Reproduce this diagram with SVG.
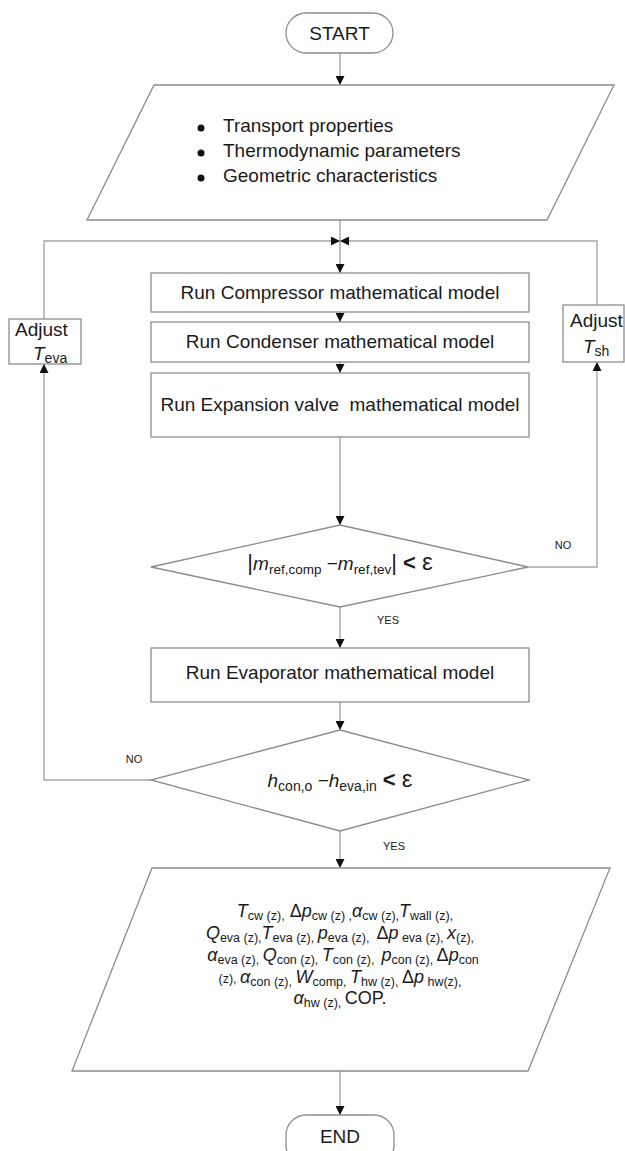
<svg xmlns="http://www.w3.org/2000/svg" width="625" height="1151" viewBox="0 0 625 1151">
<style>
.shape{fill:#fff;stroke:#8c8c8c;stroke-width:1.3}
.conn{fill:none;stroke:#a6a6a6;stroke-width:1.4}
.t{font-family:"Liberation Sans",Arial,sans-serif;font-size:19px;fill:#1a1a1a}
.m{font-family:"Liberation Sans",Arial,sans-serif;font-size:18px;fill:#1a1a1a}
.i{font-style:italic}
.s{font-size:12.5px;font-style:normal}
.lab{font-family:"Liberation Sans",Arial,sans-serif;font-size:11px;fill:#1a1a1a}
</style>
<defs>
<marker id="arr" markerUnits="userSpaceOnUse" markerWidth="9" markerHeight="9" refX="9" refY="4.5" orient="auto">
<path d="M0,0 L9,4.5 L0,9 z" fill="#111"/>
</marker>
</defs>
<rect width="625" height="1151" fill="#fff"/>

<g id="connectors">
<line class="conn" x1="340" y1="53" x2="340" y2="85" marker-end="url(#arr)"/>
<line class="conn" x1="340" y1="220" x2="340" y2="273" marker-end="url(#arr)"/>
<line class="conn" x1="340" y1="312" x2="340" y2="322" marker-end="url(#arr)"/>
<line class="conn" x1="340" y1="362" x2="340" y2="373" marker-end="url(#arr)"/>
<line class="conn" x1="340" y1="437" x2="340" y2="525" marker-end="url(#arr)"/>
<line class="conn" x1="340" y1="607" x2="340" y2="648" marker-end="url(#arr)"/>
<line class="conn" x1="340" y1="702" x2="340" y2="730" marker-end="url(#arr)"/>
<line class="conn" x1="340" y1="831" x2="340" y2="868" marker-end="url(#arr)"/>
<line class="conn" x1="340" y1="1071" x2="340" y2="1115" marker-end="url(#arr)"/>
<polyline class="conn" points="528,567 597,567 597,362" marker-end="url(#arr)"/>
<polyline class="conn" points="597,305 597,241 340,241" marker-end="url(#arr)"/>
<polyline class="conn" points="151,780 44,780 44,364" marker-end="url(#arr)"/>
<polyline class="conn" points="44,319 44,241 340,241" marker-end="url(#arr)"/>
<text class="lab" x="563" y="549" text-anchor="middle">NO</text>
<text class="lab" x="388" y="624" text-anchor="middle">YES</text>
<text class="lab" x="134" y="763" text-anchor="middle">NO</text>
<text class="lab" x="394" y="850" text-anchor="middle">YES</text>
</g>

<g id="start">
<rect class="shape" x="286" y="13" width="107" height="40" rx="20" ry="20"/>
<text class="t" x="339.5" y="40" text-anchor="middle">START</text>
</g>

<g id="inputs">
<polygon class="shape" points="154,85 614,85 547,220 87,220"/>
<circle cx="201" cy="128" r="3.5" fill="#111"/>
<circle cx="201" cy="153" r="3.5" fill="#111"/>
<circle cx="201" cy="178" r="3.5" fill="#111"/>
<text class="t" x="223" y="132">Transport properties</text>
<text class="t" x="223" y="157">Thermodynamic parameters</text>
<text class="t" x="223" y="182">Geometric characteristics</text>
</g>

<g id="compressor">
<rect class="shape" x="151" y="273" width="378" height="39"/>
<text class="t" x="340" y="299" text-anchor="middle">Run Compressor mathematical model</text>
</g>

<g id="condenser">
<rect class="shape" x="151" y="322" width="378" height="40"/>
<text class="t" x="340" y="348" text-anchor="middle">Run Condenser mathematical model</text>
</g>

<g id="expansion">
<rect class="shape" x="151" y="373" width="378" height="64"/>
<text class="t" x="340" y="411" text-anchor="middle" xml:space="preserve">Run Expansion valve  mathematical model</text>
</g>

<g id="check-mass">
<polygon class="shape" points="340,525 528,567 340,607 151,567"/>
<text class="t" x="340" y="570" text-anchor="middle"><tspan font-size="22">|</tspan><tspan class="i">m</tspan><tspan font-size="13.5" dy="4">ref,comp</tspan><tspan dy="-4"> −</tspan><tspan class="i">m</tspan><tspan font-size="13.5" dy="4">ref,tev</tspan><tspan font-size="22" dy="-4">|</tspan><tspan font-size="22" font-weight="bold"> &lt; </tspan><tspan font-size="24">ε</tspan></text>
</g>

<g id="evaporator">
<rect class="shape" x="151" y="648" width="378" height="54"/>
<text class="t" x="340" y="679" text-anchor="middle">Run Evaporator mathematical model</text>
</g>

<g id="check-enthalpy">
<polygon class="shape" points="340,730 529,780 340,831 151,780"/>
<text class="t" x="340" y="787" text-anchor="middle"><tspan class="i">h</tspan><tspan font-size="14" dy="4">con,o</tspan><tspan dy="-4"> −</tspan><tspan class="i">h</tspan><tspan font-size="14" dy="4">eva,in</tspan><tspan font-size="22" font-weight="bold" dy="-4"> &lt; </tspan><tspan font-size="24">ε</tspan></text>
</g>

<g id="adjust-teva">
<rect class="shape" x="9" y="319" width="72" height="45"/>
<text class="t" x="15" y="336">Adjust</text>
<text class="t" x="33" y="360"><tspan class="i">T</tspan><tspan font-size="14" dy="3">eva</tspan></text>
</g>

<g id="adjust-tsh">
<rect class="shape" x="563" y="305" width="61" height="57"/>
<text class="t" x="570" y="327">Adjust</text>
<text class="t" x="583" y="353"><tspan class="i">T</tspan><tspan font-size="14" dy="3">sh</tspan></text>
</g>

<g id="outputs">
<polygon class="shape" points="152,868 610,868 528,1071 72,1071"/>
<text class="m" x="345" y="917" text-anchor="middle"><tspan class="i">T</tspan><tspan class="s" dy="3">cw (z),</tspan><tspan dy="-3"> Δ</tspan><tspan class="i">p</tspan><tspan class="s" dy="3">cw (z) ,</tspan><tspan class="i" dy="-3">α</tspan><tspan class="s" dy="3">cw (z),</tspan><tspan class="i" dy="-3">T</tspan><tspan class="s" dy="3">wall (z),</tspan></text>
<text class="m" x="340" y="939" text-anchor="middle" xml:space="preserve"><tspan class="i">Q</tspan><tspan class="s" dy="3">eva (z),</tspan><tspan class="i" dy="-3">T</tspan><tspan class="s" dy="3">eva (z), </tspan><tspan class="i" dy="-3">p</tspan><tspan class="s" dy="3">eva (z),  </tspan><tspan dy="-3">Δ</tspan><tspan class="i">p</tspan><tspan class="s" dy="3"> eva (z), </tspan><tspan class="i" dy="-3">x</tspan><tspan class="s" dy="3">(z),</tspan></text>
<text class="m" x="343" y="961" text-anchor="middle" xml:space="preserve"><tspan class="i">α</tspan><tspan class="s" dy="3">eva (z), </tspan><tspan class="i" dy="-3">Q</tspan><tspan class="s" dy="3">con (z), </tspan><tspan class="i" dy="-3">T</tspan><tspan class="s" dy="3">con (z),  </tspan><tspan class="i" dy="-3">p</tspan><tspan class="s" dy="3">con (z), </tspan><tspan dy="-3">Δ</tspan><tspan class="i">p</tspan><tspan class="s" dy="3">con</tspan></text>
<text class="m" x="340" y="983" text-anchor="middle" xml:space="preserve"><tspan class="s">(z), </tspan><tspan class="i">α</tspan><tspan class="s" dy="3">con (z), </tspan><tspan class="i" dy="-3">W</tspan><tspan class="s" dy="3">comp, </tspan><tspan class="i" dy="-3">T</tspan><tspan class="s" dy="3">hw (z), </tspan><tspan dy="-3">Δ</tspan><tspan class="i">p</tspan><tspan class="s" dy="3"> hw(z),</tspan></text>
<text class="m" x="340" y="1004" text-anchor="middle"><tspan class="i">α</tspan><tspan class="s" dy="3">hw (z), </tspan><tspan dy="-3">COP.</tspan></text>
</g>

<g id="end">
<rect class="shape" x="286" y="1115" width="108" height="50" rx="20" ry="20"/>
<text class="t" x="340" y="1143" text-anchor="middle">END</text>
</g>
</svg>
